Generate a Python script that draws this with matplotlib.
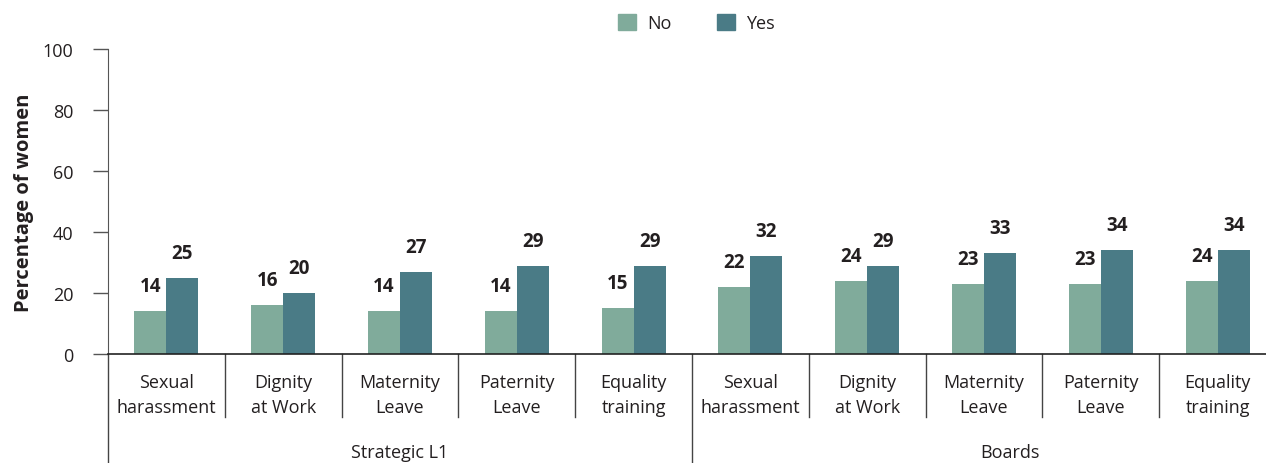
import numpy as np
import matplotlib
matplotlib.use("Agg")
import matplotlib.pyplot as plt
import matplotlib.transforms as mtransforms
from matplotlib.patches import Patch

plt.rcParams['font.family'] = ['Open Sans', 'DejaVu Sans']

categories = ["Sexual\nharassment", "Dignity\nat Work", "Maternity\nLeave",
              "Paternity\nLeave", "Equality\ntraining"] * 2
groups = ["Strategic L1", "Boards"]
no_vals = [14, 16, 14, 14, 15, 22, 24, 23, 23, 24]
yes_vals = [25, 20, 27, 29, 29, 32, 29, 33, 34, 34]

c_no = "#80ab9b"
c_yes = "#4a7b86"
txt = "#231f20"

fig = plt.figure(figsize=(12.66, 4.64), dpi=100)
# axes runs a little past the right edge, as in the reference (cropped)
ax = fig.add_axes([0.0853, 0.2349, 0.9226, 0.6573])

x = np.arange(len(categories))
w = 0.274
ax.bar(x - w / 2, no_vals, w, color=c_no, label="No")
ax.bar(x + w / 2, yes_vals, w, color=c_yes, label="Yes")

for xi, v in zip(x - w / 2, no_vals):
    ax.annotate(str(v), (xi, v), xytext=(0, 18), textcoords="offset points",
                ha="center", va="center", fontsize=13.5, fontweight="bold", color=txt)
for xi, v in zip(x + w / 2, yes_vals):
    ax.annotate(str(v), (xi, v), xytext=(0, 18), textcoords="offset points",
                ha="center", va="center", fontsize=13.5, fontweight="bold", color=txt)

ax.set_xlim(-0.5, len(categories) - 0.5)
ax.set_ylim(0, 100)
ax.set_yticks([0, 20, 40, 60, 80, 100])
ax.tick_params(axis="y", length=11, width=1, color="#555555", labelsize=13,
               labelcolor=txt, pad=14)
ax.set_xticks([])
for s in ["top", "right"]:
    ax.spines[s].set_visible(False)
ax.spines["left"].set_color("#555555")
ax.spines["bottom"].set_color("#222222")
ax.spines["bottom"].set_linewidth(1.2)
ax.set_ylabel("Percentage of women", fontsize=14.5, fontweight="bold", color=txt, labelpad=6)

trans = mtransforms.blended_transform_factory(ax.transData, ax.transAxes)

# category dividers
for i in range(len(categories) + 1):
    xd = i - 0.5
    bottom = -0.357 if i in (0, 5) else -0.2066
    ax.plot([xd, xd], [0, bottom], transform=trans, color="#444444", lw=1, clip_on=False)

for xi, lab in zip(x, categories):
    ax.text(xi, -0.062, lab, transform=trans, ha="center", va="top", fontsize=13,
            color=txt, linespacing=1.5)

ax.text(2, -0.322, groups[0], transform=trans, ha="center", va="center",
        fontsize=13, color=txt)
ax.text(7.22, -0.322, groups[1], transform=trans, ha="center", va="center",
        fontsize=13, color=txt)

handles = [Patch(color=c_no, label="No"), Patch(color=c_yes, label="Yes")]
fig.legend(handles=handles, loc="center", bbox_to_anchor=(0.55, 0.948), ncol=2,
           frameon=False, fontsize=13, handlelength=1.0, handleheight=1.0,
           columnspacing=2.5, handletextpad=0.6, labelcolor=txt)

fig.savefig("out.png", dpi=100)
